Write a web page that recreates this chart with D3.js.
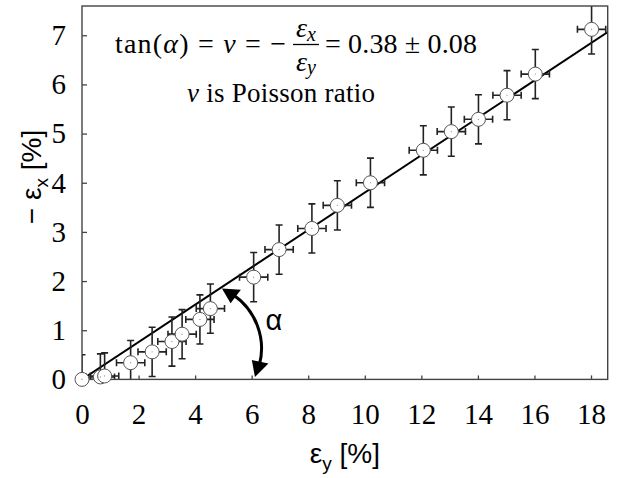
<!DOCTYPE html>
<html>

<head>
    <meta charset="utf-8">
    <title>Poisson ratio</title>
    <script src="https://unpkg.com/d3@7.8.2/dist/d3.min.js"></script>
    <style>
        body { margin: 0; background: #fff; }
    </style>
</head>

<body>
    <div id="chart"></div>

    <script>
        // measured strains in %: eps_y on the x axis, -eps_x on the y axis
        const epsY = [0, 0.65, 0.8, 1.72, 2.48, 3.18, 3.54, 4.17, 4.54, 6.07, 6.97, 8.13, 9.03, 10.2, 12.07, 13.06, 14.02, 15.03, 16.03, 18.02];
        const epsX = [0, 0.05, 0.07, 0.34, 0.56, 0.77, 0.92, 1.22, 1.44, 2.08, 2.64, 3.07, 3.54, 4.0, 4.66, 5.04, 5.29, 5.78, 6.21, 7.12];
        // error bars (half widths)
        const errY = [0.5, 0.5, 0.5, 0.5, 0.5, 0.5, 0.5, 0.5, 0.5, 0.5, 0.5, 0.5, 0.5, 0.5, 0.5, 0.5, 0.5, 0.5, 0.5, 0.5];
        const errX = [0.5, 0.47, 0.47, 0.45, 0.5, 0.5, 0.5, 0.5, 0.5, 0.5, 0.5, 0.5, 0.5, 0.5, 0.5, 0.5, 0.5, 0.5, 0.5, 0.5];

        const xTicks = [0, 2, 4, 6, 8, 10, 12, 14, 16, 18];
        const yTicks = [0, 1, 2, 3, 4, 5, 6, 7];

        // fitted slope tan(alpha)
        const slope = 0.38;

        // dimensions of the plot box
        const margin = { top: 6, right: 25.3, bottom: 98.6, left: 82 };
        const width = 633 - margin.left - margin.right;
        const height = 478 - margin.top - margin.bottom;

        const serif = "Liberation Serif, Times New Roman, serif";
        const sans = "Liberation Sans, Arial, sans-serif";

        const svg = d3.select("#chart")
            .append("svg")
            .attr("width", 633)
            .attr("height", 478);

        const g = svg.append("g")
            .attr("transform", "translate(" + margin.left + "," + margin.top + ")");

        const x = d3.scaleLinear().domain([0, 18.59]).range([0, width]);
        const y = d3.scaleLinear().domain([0, 7.595]).range([height, 0]);

        const points = epsY.map((v, i) => ({ x: v, y: epsX[i], ex: errY[i], ey: errX[i] }));

        g.append("clipPath").attr("id", "plotclip")
            .append("rect").attr("width", width).attr("height", height);

        // axes, ticks pointing inwards
        const xAxis = g.append("g")
            .attr("transform", "translate(0," + height + ")")
            .call(d3.axisBottom(x).tickValues(xTicks).tickSize(-4).tickPadding(24));
        const yAxis = g.append("g")
            .call(d3.axisLeft(y).tickValues(yTicks).tickSize(-5).tickPadding(16));

        [xAxis, yAxis].forEach(a => {
            a.attr("font-family", serif).attr("font-size", 29);
            a.select(".domain").remove();
            a.selectAll("line").attr("stroke", "#444").attr("stroke-width", 1.3);
            a.selectAll("text")
                .attr("font-family", serif)
                .attr("font-size", 29)
                .attr("fill", "#000");
        });

        const plot = g.append("g").attr("clip-path", "url(#plotclip)");

        // fitted line
        plot.append("line")
            .attr("x1", x(0)).attr("y1", y(0))
            .attr("x2", x(18.59)).attr("y2", y(18.59 * slope))
            .attr("stroke", "#000")
            .attr("stroke-width", 2);

        // error bars
        const cap = 3.5;
        plot.selectAll(".err")
            .data(points)
            .enter()
            .append("path")
            .attr("class", "err")
            .attr("d", d => {
                const cx = x(d.x), cy = y(d.y);
                const x0 = x(d.x - d.ex), x1 = x(d.x + d.ex);
                const y0 = y(d.y - d.ey), y1 = y(d.y + d.ey);
                return [
                    "M", x0, cy, "H", x1,
                    "M", x0, cy - cap, "V", cy + cap,
                    "M", x1, cy - cap, "V", cy + cap,
                    "M", cx, y0, "V", y1,
                    "M", cx - cap, y0, "H", cx + cap,
                    "M", cx - cap, y1, "H", cx + cap
                ].join(" ");
            })
            .attr("fill", "none")
            .attr("stroke", "#222")
            .attr("stroke-width", 1.6);

        // frame
        g.append("rect")
            .attr("width", width)
            .attr("height", height)
            .attr("fill", "none")
            .attr("stroke", "#444")
            .attr("stroke-width", 1.4);

        // markers (not clipped, they overlap the frame near the origin)
        g.selectAll(".pt")
            .data(points)
            .enter()
            .append("circle")
            .attr("class", "pt")
            .attr("cx", d => x(d.x))
            .attr("cy", d => y(d.y))
            .attr("r", 7)
            .attr("fill", "#fff")
            .attr("stroke", "#555")
            .attr("stroke-width", 1);

        g.selectAll(".dot")
            .data(points)
            .enter()
            .append("circle")
            .attr("class", "dot")
            .attr("cx", d => x(d.x))
            .attr("cy", d => y(d.y))
            .attr("r", 0.6)
            .attr("fill", "#888");

        // angle annotation: curved double arrow
        const arcCenter = [4.05, 0.63];
        const arcR = 65;
        const a0 = -67 * Math.PI / 180, a1 = 26 * Math.PI / 180;
        const headLen = 16, headW = 8.5;
        const acx = x(arcCenter[0]), acy = y(arcCenter[1]);
        const dA = headLen / arcR;
        const arcPath = d3.path();
        arcPath.arc(acx, acy, arcR, a0 + dA * 0.8, a1 - dA * 0.8, false);
        g.append("path")
            .attr("d", arcPath.toString())
            .attr("fill", "none")
            .attr("stroke", "#000")
            .attr("stroke-width", 3);

        function head(tipA, baseA) {
            const tx = acx + arcR * Math.cos(tipA), ty = acy + arcR * Math.sin(tipA);
            const c = Math.cos(baseA), s = Math.sin(baseA);
            return "M" + tx + "," + ty +
                "L" + (acx + (arcR + headW) * c) + "," + (acy + (arcR + headW) * s) +
                "L" + (acx + (arcR - headW) * c) + "," + (acy + (arcR - headW) * s) + "Z";
        }
        g.append("path").attr("d", head(a0, a0 + dA)).attr("fill", "#000");
        g.append("path").attr("d", head(a1, a1 - dA)).attr("fill", "#000");

        g.append("text")
            .attr("x", 274 - margin.left)
            .attr("y", 330 - margin.top)
            .attr("text-anchor", "middle")
            .attr("font-family", sans)
            .attr("font-size", 29)
            .text("α");

        // axis titles
        const xt = svg.append("text")
            .attr("x", margin.left + width / 2)
            .attr("y", 463)
            .attr("text-anchor", "middle")
            .attr("font-family", sans)
            .attr("font-size", 28);
        xt.append("tspan").text("ε");
        xt.append("tspan").attr("dy", 7).attr("font-size", 19).text("y");
        xt.append("tspan").attr("dy", -7).text(" [%]");

        const yt = svg.append("text")
            .attr("transform", "translate(41,177) rotate(-90)")
            .attr("text-anchor", "middle")
            .attr("font-family", sans)
            .attr("font-size", 28);
        yt.append("tspan").text("− ε");
        yt.append("tspan").attr("dy", 7).attr("font-size", 19).text("x");
        yt.append("tspan").attr("dy", -7).text(" [%]");

        // equation
        const eq1 = svg.append("text")
            .attr("x", 115).attr("y", 53)
            .attr("textLength", 171).attr("lengthAdjust", "spacing")
            .attr("font-family", serif).attr("font-size", 28);
        eq1.append("tspan").text("tan(");
        eq1.append("tspan").attr("font-style", "italic").text("α");
        eq1.append("tspan").text(") = ");
        eq1.append("tspan").attr("font-style", "italic").text("ν");
        eq1.append("tspan").text(" = −");

        const fracX = 306;
        const num = svg.append("text")
            .attr("x", fracX).attr("y", 37).attr("text-anchor", "middle")
            .attr("font-family", serif).attr("font-size", 28).attr("font-style", "italic");
        num.append("tspan").text("ε");
        num.append("tspan").attr("dy", 4).attr("font-size", 20).text("x");
        const den = svg.append("text")
            .attr("x", fracX).attr("y", 71).attr("text-anchor", "middle")
            .attr("font-family", serif).attr("font-size", 28).attr("font-style", "italic");
        den.append("tspan").text("ε");
        den.append("tspan").attr("dy", 3).attr("font-size", 20).text("y");
        svg.append("line")
            .attr("x1", 293).attr("x2", 319)
            .attr("y1", 44.5).attr("y2", 44.5)
            .attr("stroke", "#000").attr("stroke-width", 1.3);

        svg.append("text")
            .attr("x", 325).attr("y", 53)
            .attr("textLength", 152).attr("lengthAdjust", "spacing")
            .attr("font-family", serif).attr("font-size", 28)
            .text("= 0.38 ± 0.08");

        const note = svg.append("text")
            .attr("x", 187).attr("y", 102)
            .attr("textLength", 188).attr("lengthAdjust", "spacing")
            .attr("font-family", serif).attr("font-size", 27);
        note.append("tspan").attr("font-style", "italic").text("ν");
        note.append("tspan").text(" is Poisson ratio");
    </script>

</body>

</html>
